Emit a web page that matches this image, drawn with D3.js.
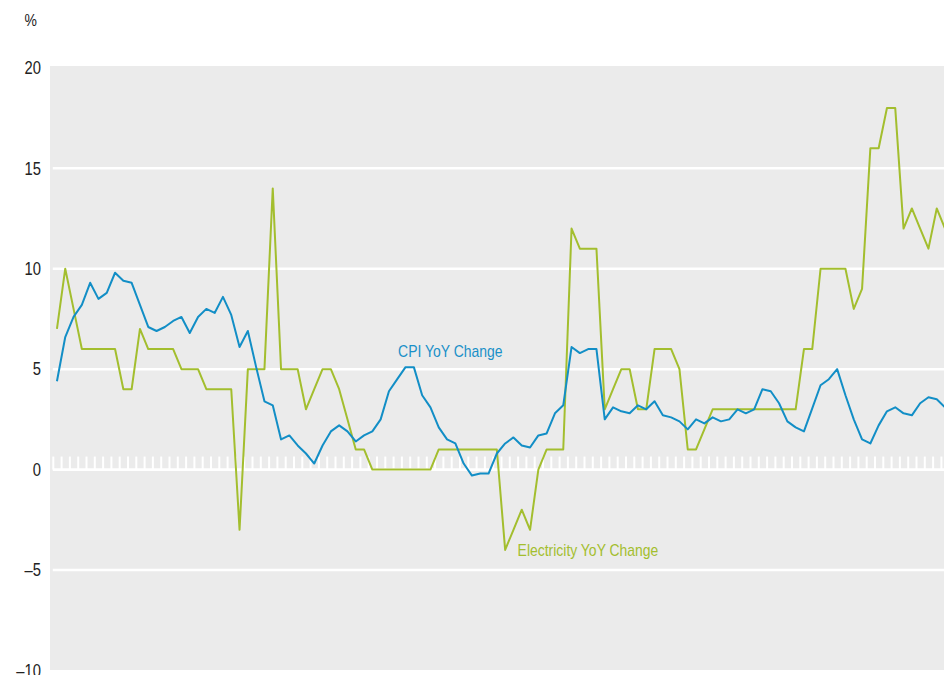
<!DOCTYPE html>
<html>
<head>
<meta charset="utf-8">
<script src="https://cdn.jsdelivr.net/npm/d3@7"></script>
<style>
  body { margin: 0; background: #fff; }
  text { font-family: "Liberation Sans Narrow", "Arial Narrow", "Liberation Sans", sans-serif; }
</style>
</head>
<body>
<div id="chart"></div>
<script>
// monthly YoY changes
var cpiValues = [4.4,6.6,7.6,8.2,9.3,8.5,8.8,9.8,9.4,9.3,
  8.2,7.1,6.9,7.1,7.4,7.6,6.8,7.6,8.0,7.8,
  8.6,7.7,6.1,6.9,5.1,3.4,3.2,1.5,1.7,1.2,
  0.8,0.3,1.2,1.9,2.2,1.9,1.4,1.7,1.9,2.5,
  3.9,4.5,5.1,5.1,3.7,3.1,2.1,1.5,1.3,0.3,
  -0.3,-0.2,-0.2,0.8,1.3,1.6,1.2,1.1,1.7,1.8,
  2.8,3.2,6.1,5.8,6.0,6.0,2.5,3.1,2.9,2.8,
  3.2,3.0,3.4,2.7,2.6,2.4,2.0,2.5,2.3,2.6,
  2.4,2.5,3.0,2.8,3.0,4.0,3.9,3.3,2.4,2.1,
  1.9,3.05,4.2,4.5,5.0,3.7,2.5,1.5,1.3,2.2,
  2.9,3.1,2.8,2.7,3.3,3.6,3.5,3.1];

var elecValues = [7,10,8,6,6,6,6,6,4,4,
  7,6,6,6,6,5,5,5,4,4,
  4,4,-3,5,5,5,14,5,5,5,
  3,4,5,5,4,2.5,1,1,0,0,
  0,0,0,0,0,0,1,1,1,1,
  1,1,1,1,-4,-3,-2,-3,0,1,
  1,1,12,11,11,11,3,4,5,5,
  3,3,6,6,6,5,1,1,2,3,
  3,3,3,3,3,3,3,3,3,3,
  6,6,10,10,10,10,8,9,16,16,
  18,18,12,13,12,11,13,12];

var yTicks = [20, 15, 10, 5, 0, -5, -10];
var gridValues = [15, 10, 5, -5];
var seriesLabels = ["CPI YoY Change", "Electricity YoY Change"];

var W = 944, H = 675;
var plot = {left: 50, right: 944, top: 66, bottom: 670};
var step = 8.3, x0 = 52.8;

var svg = d3.select("#chart").append("svg")
  .attr("width", W)
  .attr("height", H);

var n = cpiValues.length;
var x = d3.scaleLinear()
  .domain([0, n])
  .range([x0, x0 + n * step]);

var y = d3.scaleLinear()
  .domain([-10, 20])
  .range([670.4, 67.9]);

svg.append("defs").append("clipPath").attr("id", "clip")
  .append("rect")
  .attr("x", plot.left).attr("y", plot.top)
  .attr("width", plot.right - plot.left)
  .attr("height", plot.bottom - plot.top);

// no narrow face installed: squeeze the regular one
function narrow(sel) {
  sel.each(function() {
    var w = this.getComputedTextLength();
    d3.select(this)
      .attr("textLength", w * 0.82)
      .attr("lengthAdjust", "spacingAndGlyphs");
  });
}

// background
svg.append("rect")
  .attr("x", plot.left).attr("y", plot.top)
  .attr("width", plot.right - plot.left)
  .attr("height", plot.bottom - plot.top)
  .attr("fill", "#ebebeb");

// gridlines
svg.selectAll(".grid").data(gridValues).enter()
  .append("line")
  .attr("class", "grid")
  .attr("x1", x0).attr("x2", plot.right)
  .attr("y1", function(d) { return y(d); })
  .attr("y2", function(d) { return y(d); })
  .attr("stroke", "#fff")
  .attr("stroke-width", 2.5);

// zero line with monthly ticks
var xAxis = d3.axisTop(x)
  .tickValues(d3.range(0, n + 1))
  .tickSize(13)
  .tickFormat("");

var ax = svg.append("g")
  .attr("clip-path", "url(#clip)")
  .append("g")
  .attr("transform", "translate(0," + y(0) + ")")
  .call(xAxis);
ax.select(".domain").remove();
ax.selectAll(".tick line").attr("stroke", "#fff").attr("stroke-width", 2);
ax.append("line")
  .attr("x1", x0).attr("x2", plot.right)
  .attr("stroke", "#fff")
  .attr("stroke-width", 2.8);

// y labels
var yAxis = d3.axisLeft(y)
  .tickValues(yTicks)
  .tickSize(0)
  .tickPadding(0)
  .tickFormat(function(d) { return d < 0 ? "\u2013" + Math.abs(d) : d; });

var yg = svg.append("g")
  .attr("transform", "translate(41,0)")
  .call(yAxis);
yg.select(".domain").remove();
yg.selectAll("text")
  .attr("fill", "#222")
  .style("font-size", "18px")
  .call(narrow);

svg.append("text")
  .attr("x", 37).attr("y", 26)
  .attr("text-anchor", "end")
  .attr("fill", "#222")
  .style("font-size", "17px")
  .text("%")
  .call(narrow);

// lines
var line = d3.line()
  .x(function(d, i) { return x(i + 0.5); })
  .y(function(d) { return y(d); });

var lines = svg.append("g").attr("clip-path", "url(#clip)");

lines.append("path")
  .datum(elecValues)
  .attr("d", line)
  .attr("fill", "none")
  .attr("stroke", "#a3be2e")
  .attr("stroke-width", 2)
  .attr("stroke-linejoin", "round");

lines.append("path")
  .datum(cpiValues)
  .attr("d", line)
  .attr("fill", "none")
  .attr("stroke", "#128ec6")
  .attr("stroke-width", 2)
  .attr("stroke-linejoin", "round");

// series labels
svg.append("text")
  .attr("x", x(41.6)).attr("y", y(5.6))
  .attr("fill", "#1a90c8")
  .style("font-size", "17px")
  .text(seriesLabels[0])
  .call(narrow);

svg.append("text")
  .attr("x", x(56.0)).attr("y", y(-4.3))
  .attr("fill", "#a3be2e")
  .style("font-size", "17px")
  .text(seriesLabels[1])
  .call(narrow);
</script>
</body>
</html>
